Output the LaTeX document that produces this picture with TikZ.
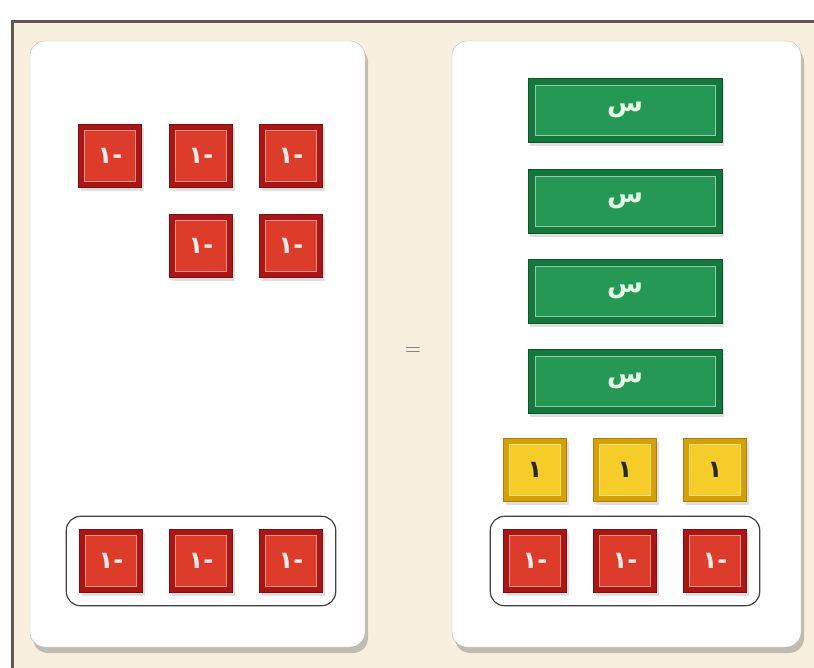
\documentclass[tikz,border=0pt]{standalone}
\usepackage{fontspec}
\newfontfamily\arabicfont[Script=Arabic]{DejaVu Sans}
\TeXXeTstate=1
\usepackage{tikz}
\usetikzlibrary{positioning, fit, shadows}
\definecolor{FrameBeige}{RGB}{248,239,222}
\definecolor{FrameLine}{RGB}{92,90,82}
\definecolor{TileRed}{RGB}{170,22,20}
\definecolor{TileRedIn}{RGB}{222,60,42}
\definecolor{BarGreen}{RGB}{20,120,60}
\definecolor{BarGreenIn}{RGB}{38,152,86}
\definecolor{TileGold}{RGB}{214,160,10}
\definecolor{TileGoldIn}{RGB}{246,204,40}

\begin{document}
\begin{tikzpicture}[x=1pt, y=-1pt,
	panel/.style={rectangle, rounded corners=15pt, draw=gray!55, fill=white, inner sep=0pt,
		drop shadow={shadow xshift=3pt, shadow yshift=-6pt, opacity=0.45}},
	tile/.style={rectangle, minimum size=63pt, inner sep=0pt,
		drop shadow={shadow xshift=2pt, shadow yshift=-3pt, opacity=0.25}},
	negtile/.style={tile, fill=TileRed, draw=TileRed!75!black, text=white!92!red,
		font=\arabicfont\bfseries\fontsize{24}{24}\selectfont,
		path picture={\draw[fill=TileRedIn, draw=TileRedIn!55!white]
			([shift={(6pt,-6pt)}]path picture bounding box.north west) rectangle
			([shift={(-6pt,6pt)}]path picture bounding box.south east);}},
	onetile/.style={tile, fill=TileGold, draw=TileGold!80!black, text=black!85,
		font=\arabicfont\bfseries\fontsize{24}{24}\selectfont,
		path picture={\draw[fill=TileGoldIn, draw=TileGoldIn!60!white]
			([shift={(6pt,-6pt)}]path picture bounding box.north west) rectangle
			([shift={(-6pt,6pt)}]path picture bounding box.south east);}},
	xbar/.style={rectangle, minimum width=194pt, minimum height=64pt, inner sep=0pt,
		fill=BarGreen, draw=BarGreen!70!black, text=green!10,
		font=\arabicfont\bfseries\fontsize{26}{26}\selectfont,
		drop shadow={shadow xshift=2pt, shadow yshift=-4pt, opacity=0.25},
		path picture={\draw[fill=BarGreenIn, draw=BarGreenIn!50!white]
			([shift={(7pt,-7pt)}]path picture bounding box.north west) rectangle
			([shift={(-7pt,7pt)}]path picture bounding box.south east);}},
	grp/.style={rectangle, rounded corners=14pt, draw=black!75, line width=1.2pt, inner sep=13pt}]
	\clip (0,0) rectangle (814,667);
	\fill[white] (0,0) rectangle (814,667);
	\draw[FrameLine, line width=3pt, fill=FrameBeige] (12,21) rectangle (840,700);

	\node[panel, minimum width=335pt, minimum height=606pt] (lhs) at (197.5,344) {};
	\node[panel, minimum width=349pt, minimum height=606pt] (rhs) at (626.5,344) {};
	\node[text=black!60, font=\fontsize{22}{22}\selectfont] (eq) at (413,352) {=};

	\node[negtile] (l1) at (110,156) {\beginR-١\endR};
	\node[negtile] (l2) at (201,156) {\beginR-١\endR};
	\node[negtile] (l3) at (291,156) {\beginR-١\endR};
	\node[negtile] (l4) at (201,246) {\beginR-١\endR};
	\node[negtile] (l5) at (291,246) {\beginR-١\endR};
	\node[negtile] (l6) at (111,561) {\beginR-١\endR};
	\node[negtile] (l7) at (201,561) {\beginR-١\endR};
	\node[negtile] (l8) at (291,561) {\beginR-١\endR};
	\node[grp, fit=(l6)(l8)] (lgrp) {};

	\node[xbar] (x1) at (625,110) {س};
	\node[xbar] (x2) at (625,201) {س};
	\node[xbar] (x3) at (625,291) {س};
	\node[xbar] (x4) at (625,381) {س};
	\node[onetile] (p1) at (535,470) {١};
	\node[onetile] (p2) at (625,470) {١};
	\node[onetile] (p3) at (715,470) {١};
	\node[negtile] (r1) at (535,561) {\beginR-١\endR};
	\node[negtile] (r2) at (625,561) {\beginR-١\endR};
	\node[negtile] (r3) at (715,561) {\beginR-١\endR};
	\node[grp, fit=(r1)(r3)] (rgrp) {};
\end{tikzpicture}
\end{document}
